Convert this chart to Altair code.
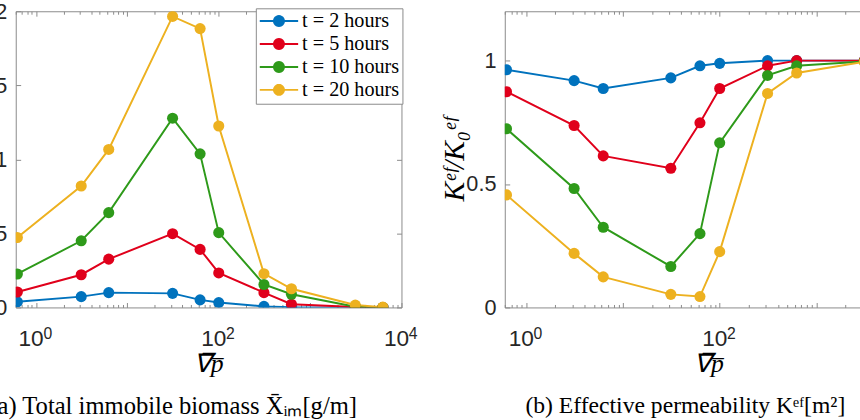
import math
import altair as alt
import pandas as pd

# Mean pressure gradient values (log-spaced runs)
grad = [0.625, 3.125, 6.25, 31.25, 62.5, 100, 312.5, 625, 3125, 6250]

series = ["t = 2 hours", "t = 5 hours", "t = 10 hours", "t = 20 hours"]
colors = ["#0072BD", "#E0001B", "#2E9A1A", "#EDB120"]

# (a) total immobile biomass [g/m]
biomass_2h = [0.038, 0.073, 0.100, 0.095, 0.051, 0.033, 0.007, 0.002, 0.0, 0.0]
biomass_5h = [0.104, 0.221, 0.326, 0.498, 0.392, 0.233, 0.100, 0.022, 0.003, 0.0]
biomass_10h = [0.226, 0.450, 0.640, 1.278, 1.037, 0.505, 0.155, 0.089, 0.005, 0.0]
biomass_20h = [0.472, 0.820, 1.067, 1.965, 1.883, 1.225, 0.228, 0.126, 0.016, 0.002]

# (b) effective permeability ratio K_ef / K0_ef
perm_2h = [0.963, 0.919, 0.887, 0.930, 0.979, 0.989, 1.0, 1.0, 1.0, 1.0]
perm_5h = [0.874, 0.737, 0.614, 0.564, 0.748, 0.887, 0.979, 1.0, 1.0, 1.0]
perm_10h = [0.724, 0.482, 0.325, 0.166, 0.299, 0.667, 0.940, 0.979, 0.997, 1.0]
perm_20h = [0.456, 0.219, 0.124, 0.053, 0.044, 0.226, 0.867, 0.950, 0.995, 1.0]

x_major = [1, 100, 10000]
x_minor = [m * 10 ** e for e in range(-1, 4) for m in range(1, 10)] + [10000]
x_minor = [v for v in x_minor if v >= 0.6]


def long_table(cols):
    rows = []
    for name, vals in zip(series, cols):
        for g, v in zip(grad, vals):
            rows.append({"grad": g, "value": v, "series": name})
    return pd.DataFrame(rows)


biomass = long_table([biomass_2h, biomass_5h, biomass_10h, biomass_20h])
perm = long_table([perm_2h, perm_5h, perm_10h, perm_20h])

AX = "#8a8a8a"
LABEL = "#262626"
SERIF = "Liberation Serif"
SANS = "Liberation Sans"
H = 301

# legend glyph: a line segment through a round marker (polygon circle)
r = 0.26
ring = " ".join(
    f"{'M' if k == 0 else 'L'}{r * math.cos(2 * math.pi * k / 24):.3f},{r * math.sin(2 * math.pi * k / 24):.3f}"
    for k in range(24)
)
glyph = f"M-1,0L1,0 {ring} Z"

legend = alt.Legend(
    title=None,
    orient="none",
    legendX=244,
    legendY=-3,
    symbolType=glyph,
    symbolSize=1521,
    symbolStrokeWidth=2,
    symbolOpacity=1,
    labelFont=SERIF,
    labelFontSize=20.5,
    labelColor="black",
    labelLimit=0,
    labelOffset=3,
    clipHeight=20,
    strokeColor=AX,
    fillColor="white",
    padding=3,
    rowPadding=2.3,
)

major_test = "indexof([1, 10, 100, 1000, 10000], datum.value) >= 0"


def tick_axis(orient, offset, values, minor=False):
    size = {"condition": {"test": major_test, "value": 5}, "value": 3} if minor else 5
    return alt.Axis(
        orient=orient, offset=offset, values=values, labels=False, domain=False,
        grid=False, ticks=True, tickSize=size, tickColor=AX, tickWidth=1, title=None,
    )


def panel(df, ydom, yvals, width, ytitle, caption, cap_dx, cap_size, show_legend):
    xs = alt.Scale(type="log", domain=[0.6, 10000], nice=False)
    ys = alt.Scale(domain=ydom, nice=False, zero=False)
    cscale = alt.Scale(domain=series, range=colors)
    leg = legend if show_legend else None

    # decade labels: base "10" on the main axis, raised exponent on a companion axis
    x_lab = alt.Axis(
        orient="bottom", values=x_major, ticks=False, domain=False, grid=False,
        translate=-5, labelExpr="'10'", labelAlign="center", labelBaseline="alphabetic",
        labelFont=SANS, labelFontSize=23, labelColor=LABEL,
        labelPadding=44, labelFlush=False, labelOverlap=False,
        title="\u2207\u0305p\u0305", titleX=width / 2 + 5, titleFont=SERIF,
        titleFontStyle="italic", titleFontSize=26, titleFontWeight="normal",
        titleColor="black", titlePadding=1,
    )
    x_exp = alt.Axis(
        orient="bottom", values=x_major, ticks=False, domain=False, grid=False,
        translate=7.5, labelExpr="format(log(datum.value) / LN10, '.0f')",
        labelAlign="left", labelBaseline="alphabetic",
        labelFont=SANS, labelFontSize=16, labelColor=LABEL,
        labelPadding=24.5, labelFlush=False, labelOverlap=False, title=None,
    )
    y_kw = dict(
        orient="left", values=yvals, format="~g", ticks=False, domain=False, grid=False,
        labelFont=SANS, labelFontSize=22, labelColor=LABEL, labelPadding=9,
        labelOverlap=False,
    )
    if ytitle:
        y_lab = alt.Axis(
            title=ytitle, titleFont=SERIF, titleFontStyle="italic",
            titleFontSize=30, titleFontWeight="normal", titleColor="black",
            titlePadding=-4, **y_kw,
        )
    else:
        y_lab = alt.Axis(title=None, **y_kw)

    base = alt.Chart(df)
    lines = base.mark_line(strokeWidth=2, clip=True).encode(
        x=alt.X("grad:Q", scale=xs, axis=x_lab),
        y=alt.Y("value:Q", scale=ys, axis=y_lab),
        color=alt.Color("series:N", scale=cscale, legend=leg),
        order="grad:Q",
    )
    points = base.mark_point(filled=True, size=127, opacity=1, clip=True).encode(
        x=alt.X("grad:Q", scale=xs, axis=tick_axis("top", -H, x_minor, True)),
        y=alt.Y("value:Q", scale=ys, axis=tick_axis("right", -width, yvals)),
        fill=alt.Fill("series:N", scale=cscale, legend=leg),
    )
    frame_ticks = base.mark_point(opacity=0).encode(
        x=alt.X("grad:Q", scale=xs, axis=tick_axis("bottom", -H, x_minor, True)),
        y=alt.Y("value:Q", scale=ys, axis=tick_axis("left", -width, yvals)),
    )
    exponents = base.mark_point(opacity=0).encode(
        x=alt.X("grad:Q", scale=xs, axis=x_exp),
        y=alt.Y("value:Q", scale=ys, axis=None),
    )
    return alt.layer(lines, points, frame_ticks, exponents).resolve_axis(
        x="independent", y="independent"
    ).properties(
        width=width,
        height=H,
        title=alt.TitleParams(
            caption, orient="bottom", anchor="middle", frame="group", dx=cap_dx,
            font=SERIF, fontSize=cap_size, fontWeight="normal", color="black",
            offset=12,
        ),
    )


left = panel(
    biomass, [0, 2], [0, 0.5, 1, 1.5, 2], 392, None,
    "(a) Total immobile biomass X\u0304\u1d62\u2098[g/m]", -36, 25, True,
)
right = panel(
    perm, [0, 1.2], [0, 0.5, 1], 415, "K\u1d49\u1da0/K\u2080\u1d49\u1da0",
    "(b) Effective permeability K\u1d49\u1da0[m\u00b2]", -24, 24, False,
)

chart = alt.hconcat(left, right, spacing=105, bounds="flush").resolve_scale(
    x="independent", y="independent", color="independent", fill="independent"
).properties(
    padding={"left": -25, "top": -4, "right": -68, "bottom": 0},
    background="white",
).configure(
    font=SERIF
).configure_view(
    stroke=AX, strokeWidth=1
).configure_legend(
    labelFont=SERIF, labelFontSize=20.5, labelColor="black"
)

chart.save("out.html", embed_options={"renderer": "svg", "actions": False})
